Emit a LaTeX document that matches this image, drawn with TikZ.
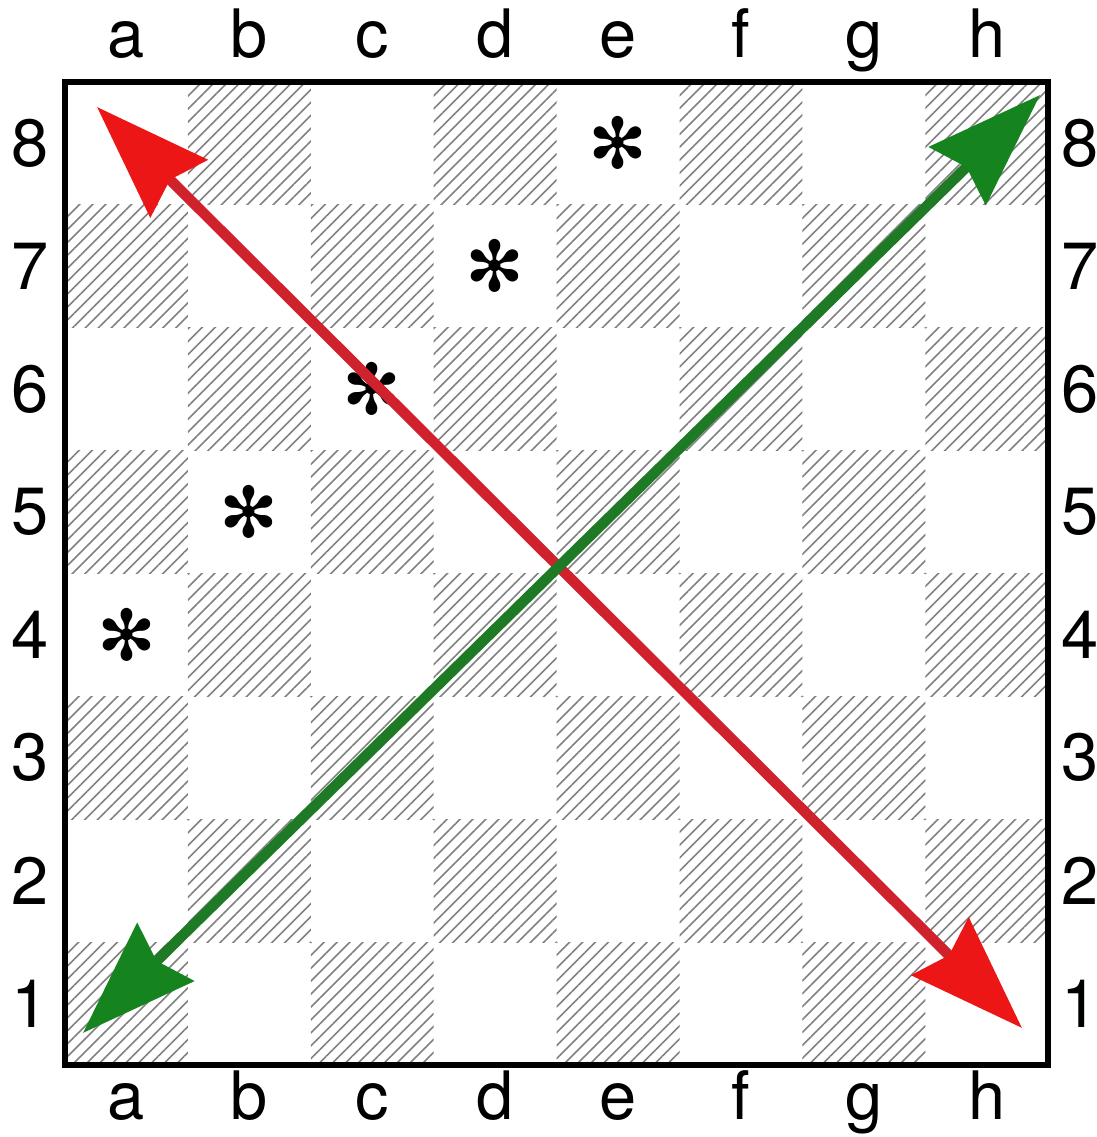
\documentclass[tikz,border=0pt]{standalone}
\usepackage{fontspec}
\setmainfont{TeX Gyre Heros}
\newfontfamily\symfont{DejaVu Sans}
\usepackage{tikz}
\usetikzlibrary{arrows.meta, patterns.meta, positioning}

\definecolor{shaftred}{RGB}{208,34,44}
\definecolor{headred}{RGB}{236,22,22}
\definecolor{shaftgreen}{RGB}{30,122,36}
\definecolor{headgreen}{RGB}{22,132,30}

\begin{document}
\begin{tikzpicture}[
    every node/.style={font=\fontsize{19}{21}\selectfont},
    dark/.style={pattern={Lines[angle=45,distance=2.6pt,line width=0.45pt]}, pattern color=black!50},
    frame/.style={draw, line width=1.5pt},
    star/.style={font=\symfont\fontsize{20}{22}\selectfont},
    arrow/.style={{Stealth[length=1.15cm,width=0.8cm,inset=0.12cm,color=#1]}-{Stealth[length=1.15cm,width=0.8cm,inset=0.12cm,color=#1]}, line width=3pt}
]
\useasboundingbox (0,0) rectangle (10.97,11.37);
\def\sq{1.229}

% Squares
\foreach \f [count=\i from 0] in {a,...,h} {
  \foreach \r in {1,...,8} {
    \coordinate (\f\r) at ({0.65+(\i+0.5)*\sq},{0.72+(\r-0.5)*\sq});
    \pgfmathtruncatemacro\odd{mod(\i+\r,2)}
    \ifnum\odd=1
      \fill[dark] ({0.65+\i*\sq},{0.72+(\r-1)*\sq}) rectangle ++(\sq,\sq);
    \fi
  }
}
\draw[frame] (0.65,0.72) rectangle (10.48,10.55);

% Labels
\foreach \f [count=\i from 0] in {a,...,h} {
  \node[anchor=base] (top-\f) at ({0.65+(\i+0.5)*\sq},10.79) {\f};
  \node[anchor=base] (bot-\f) at ({0.65+(\i+0.5)*\sq},0.17) {\f};
}
\foreach \r in {1,...,8} {
  \node (left-\r) at (0.30,{0.72+(\r-0.5)*\sq}) {\r};
  \node (right-\r) at (10.80,{0.72+(\r-0.5)*\sq}) {\r};
}

% Stars
\foreach \s in {a4,b5,c6,d7,e8}
  \node[star] (star-\s) at (\s) {✻};

% Arrows
\coordinate (red-start) at (0.97,10.30);
\coordinate (red-end) at (10.22,1.09);
\coordinate (green-start) at (0.83,1.04);
\coordinate (green-end) at (10.40,10.42);
\draw[arrow=headred, shaftred] (red-start) -- (red-end);
\draw[arrow=headgreen, shaftgreen] (green-start) -- (green-end);

\end{tikzpicture}
\end{document}
